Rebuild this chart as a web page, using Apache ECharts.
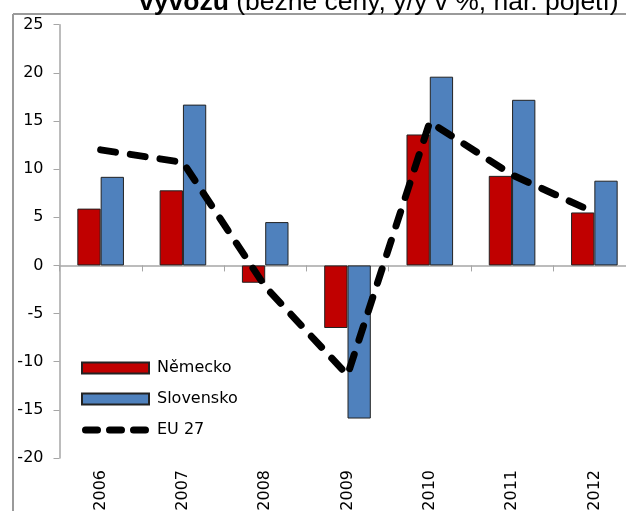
<!DOCTYPE html>
<html>
<head>
<meta charset="utf-8">
<script src="https://cdn.jsdelivr.net/npm/echarts@6/dist/echarts.min.js"></script>
<style>
    html, body { margin: 0; padding: 0; background: #fff; }
    #chart { width: 626px; height: 511px; }
</style>
</head>
<body>
<div id="chart"></div>
<script>
// data
var years = ['2006', '2007', '2008', '2009', '2010', '2011', '2012'];
var nemecko = [5.9, 7.8, -1.8, -6.5, 13.6, 9.3, 5.5];
var slovensko = [9.2, 16.7, 4.5, -15.9, 19.6, 17.2, 8.8];
var eu27 = [12.0, 10.7, -2.2, -11.4, 14.9, 9.4, 5.5];
var yMin = -20, yMax = 25, yStep = 5;

window.onload = function () {
    var myChart = echarts.init(document.getElementById('chart'));
    var font = 'DejaVu Sans';

    // three rounded dashes for the EU 27 legend entry (box 67 x 11)
    var dashIcon = 'path://M0,0M67,11' +
        'M3.5,2H15.5A3.5,3.5,0,0,1,15.5,9H3.5A3.5,3.5,0,0,1,3.5,2Z' +
        'M27.5,2H39.5A3.5,3.5,0,0,1,39.5,9H27.5A3.5,3.5,0,0,1,27.5,2Z' +
        'M51.5,2H63.5A3.5,3.5,0,0,1,63.5,9H51.5A3.5,3.5,0,0,1,51.5,2Z';

    var option = {
        animation: false,
        backgroundColor: '#fff',
        title: {
            text: '{b|vývozu} (běžné ceny, y/y v %, nár. pojetí)',
            left: 134,
            top: -16,
            textStyle: {
                fontFamily: 'Liberation Sans',
                fontSize: 26.5,
                fontWeight: 'normal',
                color: '#000',
                rich: {
                    b: { fontFamily: 'Liberation Sans', fontSize: 26.5, fontWeight: 'bold', color: '#000' }
                }
            }
        },
        graphic: [
            // frame of the original chart area
            { type: 'line', shape: { x1: 13, y1: 14, x2: 640, y2: 14 }, style: { stroke: '#9a9a9a', lineWidth: 2 } },
            { type: 'line', shape: { x1: 13, y1: 14, x2: 13, y2: 520 }, style: { stroke: '#9a9a9a', lineWidth: 2 } }
        ],
        legend: {
            orient: 'vertical',
            left: 76,
            top: 355,
            itemWidth: 67,
            itemHeight: 11,
            itemGap: 15,
            textStyle: { fontFamily: font, fontSize: 16, color: '#000', padding: [0, 0, 0, 3] },
            data: [
                { name: 'Německo', icon: 'rect' },
                { name: 'Slovensko', icon: 'rect' },
                { name: 'EU 27', icon: dashIcon }
            ]
        },
        grid: {
            left: 59.5,
            width: 576,
            top: 24.7,
            bottom: 53,
            outerBoundsMode: 'none'
        },
        xAxis: [
            {
                type: 'category',
                data: years,
                axisLine: { onZero: true, lineStyle: { color: '#a6a6a6', width: 1.5 } },
                axisTick: { show: true, length: 6, lineStyle: { color: '#a6a6a6' } },
                axisLabel: { show: false },
                splitLine: { show: false }
            },
            {
                type: 'category',
                data: years,
                position: 'bottom',
                axisLine: { show: false, onZero: false },
                axisTick: { show: false },
                axisLabel: {
                    rotate: 90,
                    margin: 12,
                    fontFamily: font,
                    fontSize: 16,
                    color: '#000'
                }
            }
        ],
        yAxis: {
            type: 'value',
            min: yMin,
            max: yMax,
            interval: yStep,
            axisLine: { show: true, lineStyle: { color: '#a6a6a6', width: 1.5 } },
            axisTick: { show: true, length: 6, lineStyle: { color: '#a6a6a6' } },
            axisLabel: { margin: 16, fontFamily: font, fontSize: 16, color: '#000' },
            splitLine: { show: false }
        },
        series: [
            {
                name: 'Německo',
                type: 'bar',
                xAxisIndex: 0,
                barWidth: 23.3,
                barGap: '0%',
                itemStyle: { color: '#C00000', borderColor: '#222', borderWidth: 1 },
                data: nemecko
            },
            {
                name: 'Slovensko',
                type: 'bar',
                xAxisIndex: 0,
                barWidth: 23.3,
                barGap: '0%',
                itemStyle: { color: '#4F81BD', borderColor: '#222', borderWidth: 1 },
                data: slovensko
            },
            {
                name: 'EU 27',
                type: 'line',
                xAxisIndex: 0,
                showSymbol: false,
                symbol: 'none',
                z: 5,
                itemStyle: { color: '#000' },
                lineStyle: { color: '#000', width: 7, type: [15, 15], cap: 'round' },
                data: eu27
            }
        ]
    };

    myChart.setOption(option);
};
</script>
</body>
</html>
